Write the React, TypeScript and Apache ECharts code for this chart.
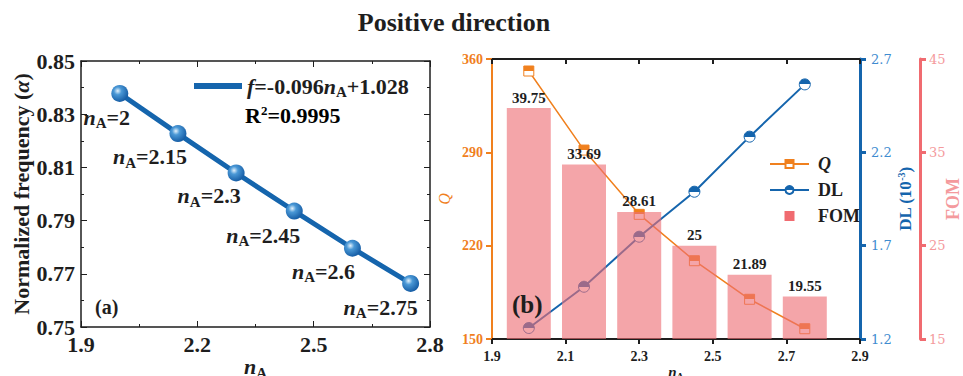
import React, { useEffect, useRef } from "react";
import * as echarts from "echarts";

// ---- data ----
const nA = [2, 2.15, 2.3, 2.45, 2.6, 2.75];
const normFreq = [0.8378, 0.8227, 0.8079, 0.7936, 0.7796, 0.7664];
const nALabels = ["2", "2.15", "2.3", "2.45", "2.6", "2.75"];
const qValues = [351, 291.7, 243.5, 208.7, 179.8, 157.7];
const dlValues = [1.259, 1.48, 1.748, 1.989, 2.284, 2.564];
const fomValues = [39.75, 33.69, 28.61, 25, 21.89, 19.55];
const fitText = "f=-0.096n_A+1.028";
const r2Text = "0.9995";

// ---- layout / style constants ----
const labelOffsets: [number, number][] = [
  [-13, 24],
  [-28, 23],
  [-27, 23],
  [-31, 24],
  [-29, 23],
  [-30, 24],
];

const SERIF = "'Liberation Serif', 'Times New Roman', serif";
const BLACK = "#1e1e1e";
const ORANGE = "#f0801e";
const BLUE = "#1565ad";
const BLUE_L = "#3f8cd0";
const PINK = "#f06b70";
const PINK_L = "#f49a9d";

export default function App() {
  const ref = useRef<HTMLDivElement>(null);
  useEffect(() => {
    if (!ref.current) return;
    const chart = echarts.init(ref.current, undefined, { renderer: "svg" });

    const bold = (size: number, extra: any = {}) => ({
      fontFamily: SERIF,
      fontWeight: "bold",
      fontSize: size,
      color: BLACK,
      ...extra,
    });

    const nRich = (size: number) => ({
      i: bold(size, { fontStyle: "italic" }),
      s: bold(Math.round(size * 0.68), { padding: [Math.round(size * 0.55), 0, 0, 0] }),
      b: bold(size),
    });

    const sphere = {
      type: "radial",
      x: 0.38,
      y: 0.35,
      r: 0.65,
      colorStops: [
        { offset: 0, color: "#e4f2fc" },
        { offset: 0.35, color: "#4a98d6" },
        { offset: 1, color: "#175ea6" },
      ],
    };

    const half = (c: string) => ({
      type: "linear",
      x: 0,
      y: 0,
      x2: 0,
      y2: 1,
      colorStops: [
        { offset: 0, color: c },
        { offset: 0.5, color: c },
        { offset: 0.5, color: "#ffffff" },
        { offset: 1, color: "#ffffff" },
      ],
    });

    const gridL = { left: 81, top: 61, width: 349, height: 266, outerBoundsMode: "none", containLabel: false };
    const gridR = { left: 492, top: 59, width: 368, height: 280, outerBoundsMode: "none", containLabel: false };

    const option: any = {
      animation: false,
      title: {
        text: "Positive direction",
        left: 449,
        top: 4,
        textAlign: "center",
        textStyle: bold(26),
      },
      grid: [gridL, gridR],
      legend: [
        {
          data: [{ name: fitText, itemStyle: { color: BLUE } }],
          left: 189,
          top: 70,
          icon: "rect",
          itemWidth: 48,
          itemHeight: 6,
          itemGap: 0,
          formatter: () => "{i|f}{b|=-0.096}{i|n}{s|A}{b|+1.028}",
          textStyle: { rich: nRich(22), padding: [0, 0, 0, 0] },
        },
        {
          data: [
            { name: "Q" },
            { name: "DL" },
            { name: "FOM", icon: "path://M0,0L10,0L10,10L0,10Z", itemStyle: { color: PINK } },
          ],
          orient: "vertical",
          left: 764,
          top: 150,
          itemWidth: 39,
          itemHeight: 10,
          itemGap: 8,
          symbolKeepAspect: true,
          formatter: (n: string) => (n === "Q" ? "{i|Q}" : "{b|" + n + "}"),
          textStyle: {
            rich: {
              i: bold(18, { fontStyle: "italic" }),
              b: bold(18),
            },
            padding: [0, 0, 0, 4],
          },
        },
      ],
      xAxis: [
        {
          gridIndex: 0,
          type: "value",
          min: 1.9,
          max: 2.8,
          interval: 0.3,
          position: "bottom",
          name: "{i|n}{s|A}",
          nameLocation: "middle",
          nameGap: 26,
          nameMoveOverlap: false,
          nameTextStyle: { rich: nRich(22) },
          axisLine: { show: true, lineStyle: { color: BLACK, width: 1.5 } },
          axisTick: { show: true, inside: true, length: 6, lineStyle: { color: BLACK } },
          minorTick: { show: true, splitNumber: 2, length: 3, lineStyle: { color: BLACK } },
          axisLabel: { ...bold(22), margin: 6 },
          splitLine: { show: false },
        },
        {
          gridIndex: 0,
          type: "value",
          min: 1.9,
          max: 2.8,
          interval: 0.3,
          position: "top",
          axisLine: { show: true, lineStyle: { color: BLACK, width: 1.5 } },
          axisTick: { show: true, inside: true, length: 6, lineStyle: { color: BLACK } },
          minorTick: { show: true, splitNumber: 2, length: 3, lineStyle: { color: BLACK } },
          axisLabel: { show: false },
          splitLine: { show: false },
        },
        {
          gridIndex: 1,
          type: "value",
          min: 1.9,
          max: 2.9,
          interval: 0.2,
          position: "bottom",
          name: "{i|n}{s|A}",
          nameLocation: "middle",
          nameGap: 24,
          nameMoveOverlap: false,
          nameTextStyle: { rich: nRich(15) },
          axisLine: { show: true, lineStyle: { color: BLACK, width: 2 } },
          axisTick: { show: true, inside: false, length: 5, lineStyle: { color: BLACK, width: 2 } },
          axisLabel: { ...bold(14), margin: 10 },
          splitLine: { show: false },
        },
        {
          gridIndex: 1,
          type: "value",
          min: 1.9,
          max: 2.9,
          interval: 0.2,
          position: "top",
          axisLine: { show: true, lineStyle: { color: BLACK, width: 2 } },
          axisTick: { show: true, inside: true, length: 5, lineStyle: { color: BLACK, width: 2 } },
          axisLabel: { show: false },
          splitLine: { show: false },
        },
      ],
      yAxis: [
        {
          gridIndex: 0,
          type: "value",
          min: 0.75,
          max: 0.85,
          interval: 0.02,
          position: "left",
          name: "{b|Normalized frequency (}{i|α}{b|)}",
          nameLocation: "middle",
          nameGap: 48,
          nameTextStyle: {
            rich: { b: bold(22), i: bold(22, { fontStyle: "italic" }) },
          },
          axisLine: { show: true, lineStyle: { color: BLACK, width: 1.5 } },
          axisTick: { show: true, inside: true, length: 6, lineStyle: { color: BLACK } },
          minorTick: { show: true, splitNumber: 2, length: 3, lineStyle: { color: BLACK } },
          axisLabel: { ...bold(22), margin: 6, formatter: (v: number) => v.toFixed(2) },
          splitLine: { show: false },
        },
        {
          gridIndex: 0,
          type: "value",
          min: 0.75,
          max: 0.85,
          interval: 0.02,
          position: "right",
          axisLine: { show: true, lineStyle: { color: BLACK, width: 1.5 } },
          axisTick: { show: true, inside: true, length: 6, lineStyle: { color: BLACK } },
          minorTick: { show: true, splitNumber: 2, length: 3, lineStyle: { color: BLACK } },
          axisLabel: { show: false },
          splitLine: { show: false },
        },
        {
          gridIndex: 1,
          type: "value",
          min: 150,
          max: 360,
          interval: 70,
          position: "left",
          name: "Q",
          nameLocation: "middle",
          nameGap: 40,
          nameTextStyle: { fontFamily: SERIF, fontStyle: "italic", fontSize: 16, color: ORANGE },
          axisLine: { show: true, lineStyle: { color: ORANGE, width: 2 } },
          axisTick: { show: true, inside: false, length: 6, lineStyle: { color: ORANGE, width: 2 } },
          axisLabel: { ...bold(14, { color: ORANGE }), margin: 9 },
          splitLine: { show: false },
        },
        {
          gridIndex: 1,
          type: "value",
          min: 1.2,
          max: 2.7,
          interval: 0.5,
          position: "right",
          name: "{b|DL (10}{sup|-3}{b|)}",
          nameLocation: "middle",
          nameGap: 36,
          nameTextStyle: {
            rich: {
              b: bold(17, { color: BLUE }),
              sup: bold(10, { color: BLUE, padding: [0, 0, 8, 0] }),
            },
          },
          axisLine: { show: true, lineStyle: { color: BLUE, width: 3 } },
          axisTick: { show: true, inside: false, length: 6, lineStyle: { color: BLUE, width: 3 } },
          axisLabel: {
            fontFamily: "'DejaVu Serif', serif",
            fontSize: 13,
            color: BLUE_L,
            margin: 11,
            formatter: (v: number) => v.toFixed(1),
          },
          splitLine: { show: false },
        },
        {
          gridIndex: 1,
          type: "value",
          min: 15,
          max: 45,
          interval: 10,
          position: "right",
          offset: 60,
          name: "FOM",
          nameLocation: "middle",
          nameGap: 24,
          nameMoveOverlap: false,
          nameTextStyle: bold(18, { color: PINK_L }),
          axisLine: { show: true, lineStyle: { color: PINK, width: 3 } },
          axisTick: { show: true, inside: false, length: 6, lineStyle: { color: PINK, width: 3 } },
          axisLabel: { fontFamily: "'DejaVu Serif', serif", fontSize: 13, color: PINK_L, margin: 9 },
          splitLine: { show: false },
        },
      ],
      series: [
        {
          name: fitText,
          type: "line",
          xAxisIndex: 0,
          yAxisIndex: 0,
          data: nA.map((x, i) => [x, normFreq[i]]),
          lineStyle: { color: BLUE, width: 5 },
          itemStyle: { color: sphere as any, borderWidth: 0 },
          color: BLUE,
          symbol: "circle",
          symbolSize: 17,
          z: 3,
          label: {
            show: true,
            position: "inside",
            formatter: (p: any) => "{i|n}{s|A}{b|=" + nALabels[p.dataIndex] + "}",
            rich: nRich(22),
          },
          labelLayout: (p: any) => ({
            dx: labelOffsets[p.dataIndex][0],
            dy: labelOffsets[p.dataIndex][1],
          }),
        },
        {
          name: "Q",
          type: "line",
          xAxisIndex: 2,
          yAxisIndex: 2,
          data: nA.map((x, i) => [x, qValues[i]]),
          color: ORANGE,
          lineStyle: { color: ORANGE, width: 1.5 },
          symbol: "rect",
          symbolSize: 10,
          itemStyle: { color: half(ORANGE) as any, borderColor: ORANGE, borderWidth: 1 },
          z: 2,
        },
        {
          name: "DL",
          type: "line",
          xAxisIndex: 2,
          yAxisIndex: 3,
          data: nA.map((x, i) => [x, dlValues[i]]),
          color: BLUE,
          lineStyle: { color: BLUE, width: 2 },
          symbol: "circle",
          symbolSize: 11,
          itemStyle: { color: half(BLUE) as any, borderColor: BLUE, borderWidth: 1 },
          z: 2,
        },
        {
          name: "FOM",
          type: "bar",
          xAxisIndex: 2,
          yAxisIndex: 4,
          data: nA.map((x, i) => [x, fomValues[i]]),
          barWidth: 44,
          clip: true,
          color: PINK,
          itemStyle: { color: "rgba(238,110,116,0.62)" },
          z: 5,
          label: {
            show: true,
            position: "top",
            distance: 3,
            ...bold(15),
          },
        },
      ],
      graphic: [
        {
          type: "text",
          left: 245,
          top: 104,
          style: {
            text: "{b|R}{sup|2}{b|=" + r2Text + "}",
            rich: {
              b: bold(22),
              sup: bold(13, { padding: [0, 0, 10, 0] }),
            },
          },
          z: 10,
        },
        {
          type: "text",
          left: 95,
          top: 297,
          style: { text: "(a)", fill: BLACK, font: "bold 20px " + SERIF },
          z: 10,
        },
        {
          type: "text",
          left: 512,
          top: 292,
          style: { text: "(b)", fill: BLACK, font: "bold 25px " + SERIF },
          z: 10,
        },
      ],
    };

    chart.setOption(option);
    return () => chart.dispose();
  }, []);

  return (
    <div
      ref={ref}
      style={{ position: "fixed", left: 0, top: 0, width: 963, height: 376, background: "#fff" }}
    />
  );
}
